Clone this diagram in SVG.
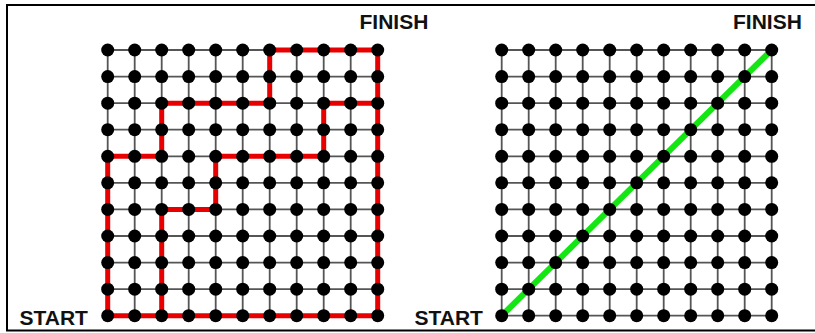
<svg xmlns="http://www.w3.org/2000/svg" xmlns:xlink="http://www.w3.org/1999/xlink" width="815" height="333" viewBox="0 0 815 333">
<style>
.lbl{font-family:"Liberation Sans",Arial,sans-serif;font-weight:bold;font-size:21px;fill:#111}
.grid{fill:none;stroke:#555;stroke-width:1.8}
.dot{fill:#000}
.red{fill:none;stroke:#e80000;stroke-width:5;stroke-linejoin:miter}
.green{fill:none;stroke:#14e614;stroke-width:6}
</style>
<defs>
<g id="row">
<circle class="dot" cx="0" cy="0" r="6.5"/><circle class="dot" cx="27" cy="0" r="6.5"/><circle class="dot" cx="54" cy="0" r="6.5"/><circle class="dot" cx="81" cy="0" r="6.5"/><circle class="dot" cx="108" cy="0" r="6.5"/><circle class="dot" cx="135" cy="0" r="6.5"/><circle class="dot" cx="162" cy="0" r="6.5"/><circle class="dot" cx="189" cy="0" r="6.5"/><circle class="dot" cx="216" cy="0" r="6.5"/><circle class="dot" cx="243" cy="0" r="6.5"/><circle class="dot" cx="270" cy="0" r="6.5"/>
</g>
<g id="dots">
<use xlink:href="#row" href="#row" y="0"/><use xlink:href="#row" href="#row" y="26.57"/><use xlink:href="#row" href="#row" y="53.14"/><use xlink:href="#row" href="#row" y="79.71"/><use xlink:href="#row" href="#row" y="106.28"/><use xlink:href="#row" href="#row" y="132.85"/><use xlink:href="#row" href="#row" y="159.42"/><use xlink:href="#row" href="#row" y="185.99"/><use xlink:href="#row" href="#row" y="212.56"/><use xlink:href="#row" href="#row" y="239.13"/><use xlink:href="#row" href="#row" y="265.7"/>
</g>
<path id="lines" class="grid" d="M0 0H270M0 26.57H270M0 53.14H270M0 79.71H270M0 106.28H270M0 132.85H270M0 159.42H270M0 185.99H270M0 212.56H270M0 239.13H270M0 265.7H270M0 0V265.7M27 0V265.7M54 0V265.7M81 0V265.7M108 0V265.7M135 0V265.7M162 0V265.7M189 0V265.7M216 0V265.7M243 0V265.7M270 0V265.7"/>
</defs>
<rect x="0" y="0" width="815" height="333" fill="#fff"/>
<rect x="7" y="5" width="900" height="325.5" fill="none" stroke="#000" stroke-width="2"/>
<g id="left-grid">
<use xlink:href="#lines" href="#lines" x="107.7" y="50"/>
<g id="connectors-left">
<path class="red" d="M269.7 50H377.7V315.7H107.7V156.28H161.7V103.14H269.7Z"/>
<path class="red" d="M377.7 103.14H323.7V156.28H215.7V209.42H161.7V315.7"/>
</g>
<use xlink:href="#dots" href="#dots" x="107.7" y="50"/>
<text class="lbl" x="359.5" y="29.3">FINISH</text>
<text class="lbl" x="19.5" y="325">START</text>
</g>
<g id="right-grid">
<use xlink:href="#lines" href="#lines" x="501.7" y="50"/>
<g id="connectors-right">
<path class="green" d="M501.7 315.7L771.7 50"/>
</g>
<use xlink:href="#dots" href="#dots" x="501.7" y="50"/>
<text class="lbl" x="733" y="29.3">FINISH</text>
<text class="lbl" x="414.5" y="324.5">START</text>
</g>
</svg>
